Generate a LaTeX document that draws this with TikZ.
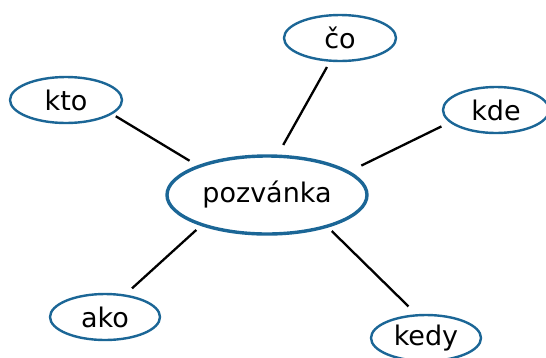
\documentclass[tikz,border=0pt]{standalone}
\usepackage{fontspec}
\setmainfont{DejaVu Sans}
\usetikzlibrary{shapes.geometric}
\definecolor{nodeblue}{RGB}{27,102,150}
\begin{document}
\begin{tikzpicture}[x=1pt,y=-1pt,
	bubble/.style={ellipse,draw=nodeblue,line width=2.4pt,inner sep=0,minimum width=112pt,minimum height=46pt,font=\fontsize{27}{31}\selectfont},
	spoke/.style={line width=2.3pt}]
	\useasboundingbox (0,0) rectangle (546,357);
	\node [bubble,line width=3.4pt,minimum width=200pt,minimum height=78pt] at (267,195) (pozvanka) {pozvánka};
	\foreach \n/\x/\y/\w/\t in {co/340/38/112/čo, kto/66/100/112/kto, kde/496/110/106/kde, ako/105/317/110/ako, kedy/426/338/110/kedy}
		\node [bubble,minimum width=\w pt] at (\x,\y) (\n) {\t};
	\foreach \n/\a/\b/\s/\e in {kto/157/-17/9/4, co/75/247/11/6, kde/16/195/13/9, ako/205/48/6/9, kedy/-28/112/5/11}
		\draw [spoke,shorten <=\s pt,shorten >=\e pt] (pozvanka.\a) -- (\n.\b);
\end{tikzpicture}
\end{document}
